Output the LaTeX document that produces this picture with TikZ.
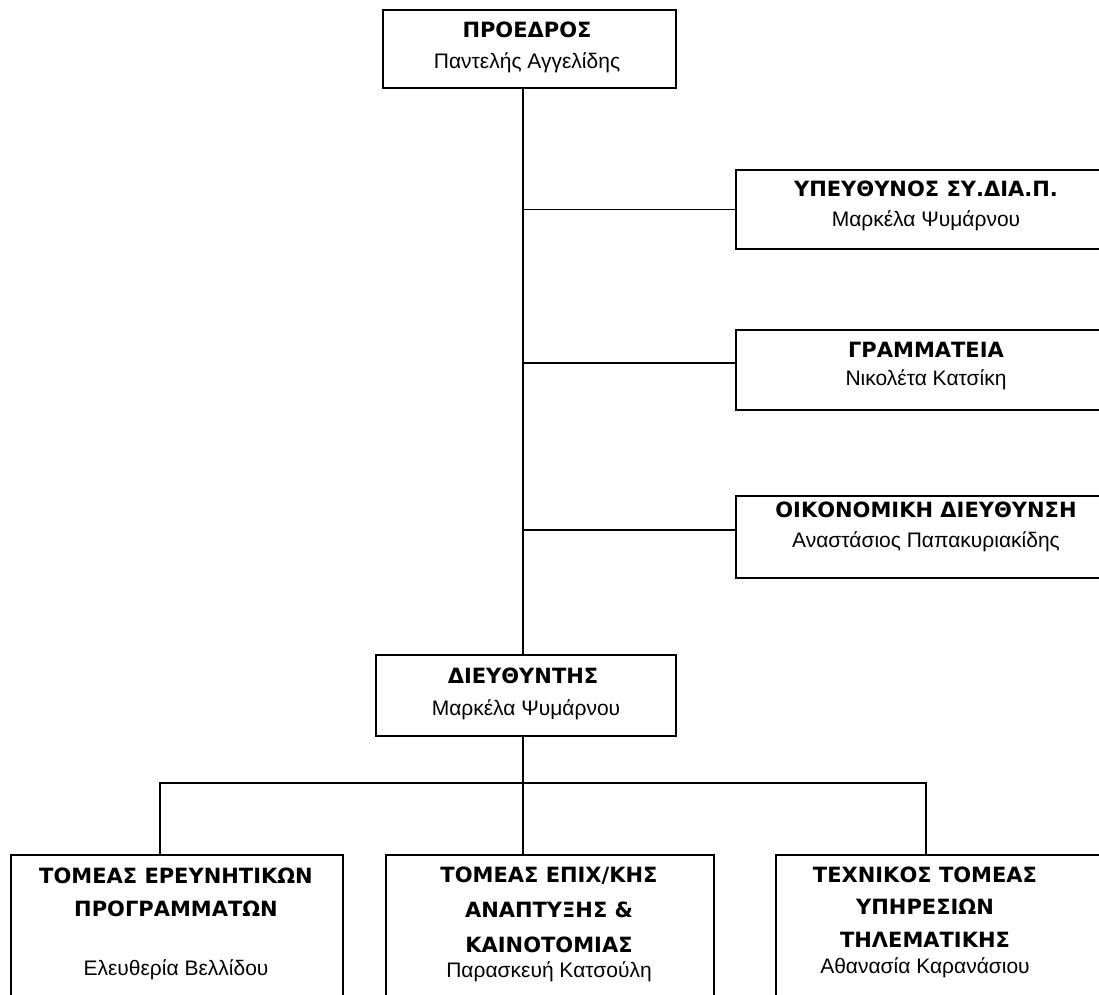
\documentclass[tikz,border=0pt]{standalone}
\usepackage{fontspec}
\setmainfont{Liberation Sans}
\newfontfamily\ttlfont{DejaVu Sans}
\tikzset{
  box/.style={draw, line width=1.6pt, rectangle, inner sep=0pt, anchor=north west},
  ttl/.style={anchor=base, inner sep=0pt, font=\ttlfont\bfseries\fontsize{21}{25}\selectfont},
  nm/.style={anchor=base, inner sep=0pt, font=\fontsize{21}{25}\selectfont},
  conn/.style={line width=1.6pt},
}
\begin{document}
\begin{tikzpicture}[x=1pt,y=-1pt]
\useasboundingbox (0,0) rectangle (1099,994);
\fill[white] (0,0) rectangle (1099,994);
\clip (0,0) rectangle (1099,994);

% boxes
\node[box, minimum width=293pt, minimum height=78pt] (pres) at (382,9) {};
\node[box, minimum width=382pt, minimum height=79pt] (b1) at (735,169) {};
\node[box, minimum width=382pt, minimum height=80pt] (b2) at (735,329) {};
\node[box, minimum width=382pt, minimum height=82pt] (b3) at (735,495) {};
\node[box, minimum width=300pt, minimum height=81pt] (dir) at (375,654) {};
\node[box, minimum width=332pt, minimum height=200pt] (d1) at (10,854) {};
\node[box, minimum width=328pt, minimum height=200pt] (d2) at (385,854) {};
\node[box, minimum width=340pt, minimum height=200pt] (d3) at (775,854) {};

% texts
\node[ttl] (presT) at (527,37) {ΠΡΟΕΔΡΟΣ};
\node[nm]  (presN) at (527,68) {Παντελής Αγγελίδης};
\node[ttl] (b1T) at (926,196) {ΥΠΕΥΘΥΝΟΣ ΣΥ.ΔΙΑ.Π.};
\node[nm]  (b1N) at (926,226) {Μαρκέλα Ψυμάρνου};
\node[ttl] (b2T) at (926,357) {ΓΡΑΜΜΑΤΕΙΑ};
\node[nm]  (b2N) at (926,385) {Νικολέτα Κατσίκη};
\node[ttl] (b3T) at (926,517) {ΟΙΚΟΝΟΜΙΚΗ ΔΙΕΥΘΥΝΣΗ};
\node[nm]  (b3N) at (926,547) {Αναστάσιος Παπακυριακίδης};
\node[ttl] (dirT) at (523,683) {ΔΙΕΥΘΥΝΤΗΣ};
\node[nm]  (dirN) at (526,715) {Μαρκέλα Ψυμάρνου};

\node[ttl] (d1Ta) at (176,883) {ΤΟΜΕΑΣ ΕΡΕΥΝΗΤΙΚΩΝ};
\node[ttl] (d1Tb) at (176,916) {ΠΡΟΓΡΑΜΜΑΤΩΝ};
\node[nm]  (d1N) at (176,975) {Ελευθερία Βελλίδου};

\node[ttl] (d2Ta) at (549,882) {ΤΟΜΕΑΣ ΕΠΙΧ/ΚΗΣ};
\node[ttl] (d2Tb) at (549,917) {ΑΝΑΠΤΥΞΗΣ \&};
\node[ttl] (d2Tc) at (549,952) {ΚΑΙΝΟΤΟΜΙΑΣ};
\node[nm]  (d2N) at (549,977) {Παρασκευή Κατσούλη};

\node[ttl] (d3Ta) at (925,882) {ΤΕΧΝΙΚΟΣ ΤΟΜΕΑΣ};
\node[ttl] (d3Tb) at (925,914) {ΥΠΗΡΕΣΙΩΝ};
\node[ttl] (d3Tc) at (925,947) {ΤΗΛΕΜΑΤΙΚΗΣ};
\node[nm]  (d3N) at (925,973) {Αθανασία Καρανάσιου};

% connectors
\coordinate (tx) at (523,0);
\coordinate (b2w) at ([yshift=7pt]b2.west);
\coordinate (b3w) at ([yshift=7pt]b3.west);
\coordinate (busL) at (160,783);
\coordinate (busR) at (926,783);

\draw[conn] (tx |- pres.south) -- (tx |- dir.north);
\draw[conn] (tx |- b1.west) -- (b1.west);
\draw[conn] (tx |- b2w) -- (b2w);
\draw[conn] (tx |- b3w) -- (b3w);
\draw[conn] (tx |- dir.south) -- (tx |- busL);
\draw[conn] (busL |- d1.north) -- (busL) -- (busR) -- (busR |- d3.north);
\draw[conn] (tx |- busL) -- (tx |- d2.north);
\end{tikzpicture}
\end{document}
